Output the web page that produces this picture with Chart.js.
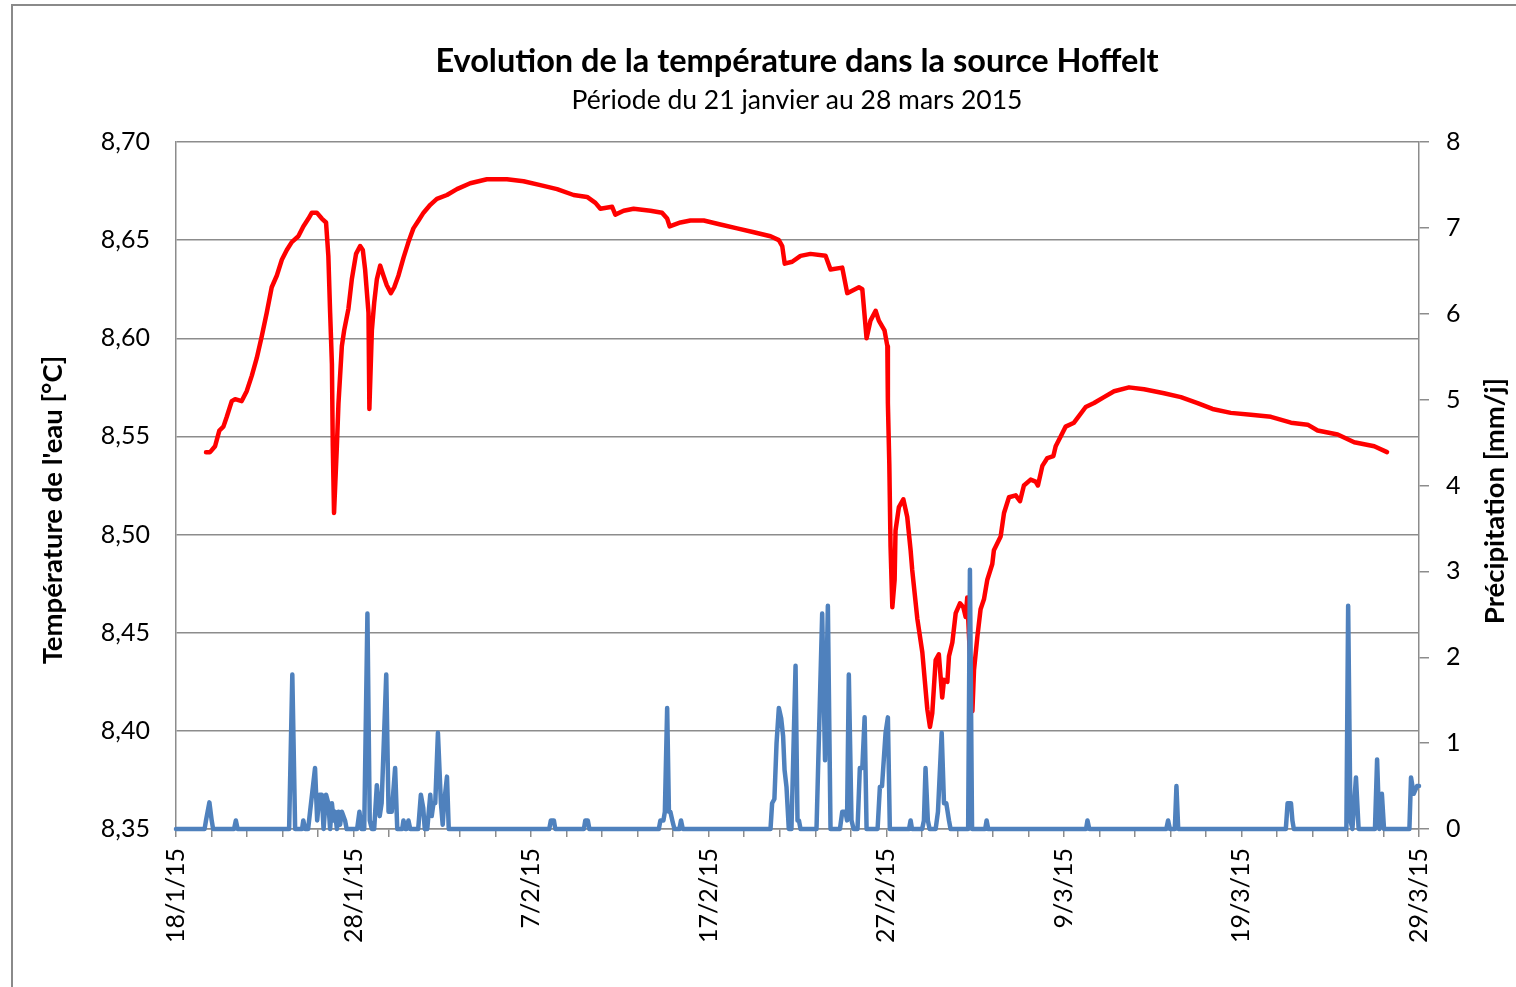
<!DOCTYPE html>
<html>
<head>
<meta charset="utf-8">
<title>Evolution de la température dans la source Hoffelt</title>
<script src="https://cdn.jsdelivr.net/npm/chart.js@4.4.1/dist/chart.umd.min.js"></script>
<style>
  html, body { margin: 0; padding: 0; background: #fff; overflow: hidden; }
  #frame { position: absolute; left: 11px; top: 4px; width: 1520px; height: 1000px;
           border-top: 2px solid #8a8a8a; border-left: 2px solid #8a8a8a; }
  canvas { position: absolute; left: 0; top: 0; }
</style>
</head>
<body>
<div id="frame"></div>
<canvas id="tempChart" width="1516" height="987"></canvas>
<script>
// days counted from 18/1/15
const dateLabels = ["18/1/15", "28/1/15", "7/2/15", "17/2/15", "27/2/15", "9/3/15", "19/3/15", "29/3/15"];

// water temperature [°C]
const tempDays = [
  1.69, 1.92, 2.20, 2.44, 2.67, 2.86, 3.14, 3.33, 3.70, 3.98,
  4.27, 4.55, 4.83, 5.11, 5.39, 5.68, 5.96, 6.24, 6.52, 6.89,
  7.17, 7.46, 7.65, 7.93, 8.21, 8.45, 8.58, 8.68, 8.78, 8.83,
  8.90, 9.06, 9.15, 9.34, 9.47, 9.71, 9.90, 10.14, 10.37, 10.52,
  10.65, 10.84, 10.89, 11.03, 11.16, 11.31, 11.50, 11.68, 11.87, 12.10,
  12.29, 12.53, 12.81, 13.09, 13.37, 13.66, 13.94, 14.32, 14.69, 15.26,
  15.82, 16.57, 17.51, 18.64, 19.57, 20.52, 21.46, 22.39, 23.15, 23.62,
  23.90, 24.56, 24.74, 25.21, 25.77, 26.72, 27.37, 27.66, 27.80, 28.41,
  28.97, 29.72, 30.66, 31.60, 32.54, 33.48, 33.95, 34.14, 34.28, 34.70,
  35.17, 35.73, 36.58, 36.86, 37.52, 37.80, 38.46, 38.65, 38.89, 39.11,
  39.40, 39.58, 39.90, 40.06, 40.09, 40.17, 40.24, 40.34, 40.47, 40.52,
  40.71, 40.96, 41.18, 41.37, 41.46, 41.75, 42.03, 42.31, 42.46, 42.59,
  42.78, 42.96, 43.15, 43.25, 43.44, 43.53, 43.72, 43.91, 44.15, 44.34,
  44.47, 44.56, 44.85, 44.94, 45.13, 45.31, 45.50, 45.69, 45.97, 46.06,
  46.44, 46.63, 46.91, 47.29, 47.53, 47.75, 48.13, 48.41, 48.54, 48.79,
  49.07, 49.41, 49.54, 49.82, 50.10, 50.57, 51.23, 51.70, 52.26, 52.83,
  53.67, 54.52, 55.64, 56.59, 57.53, 58.37, 59.40, 60.53, 61.66, 62.79,
  63.73, 64.29, 65.42, 66.35, 67.48, 68.20
];
const tempValues = [
  8.542, 8.542, 8.545, 8.553, 8.555, 8.560, 8.568, 8.569, 8.568, 8.573,
  8.581, 8.590, 8.601, 8.613, 8.626, 8.632, 8.640, 8.645, 8.649, 8.652,
  8.657, 8.661, 8.664, 8.664, 8.661, 8.659, 8.642, 8.613, 8.587, 8.545,
  8.511, 8.545, 8.567, 8.596, 8.604, 8.615, 8.630, 8.643, 8.647, 8.645,
  8.635, 8.613, 8.564, 8.604, 8.618, 8.630, 8.637, 8.632, 8.627, 8.623,
  8.626, 8.632, 8.641, 8.649, 8.656, 8.660, 8.664, 8.668, 8.671, 8.673,
  8.676, 8.679, 8.681, 8.681, 8.680, 8.678, 8.676, 8.673, 8.672, 8.669,
  8.666, 8.667, 8.663, 8.665, 8.666, 8.665, 8.664, 8.661, 8.657, 8.659,
  8.660, 8.660, 8.658, 8.656, 8.654, 8.652, 8.650, 8.647, 8.638, 8.639,
  8.642, 8.643, 8.642, 8.635, 8.636, 8.623, 8.626, 8.625, 8.600, 8.609,
  8.614, 8.609, 8.604, 8.596, 8.567, 8.536, 8.494, 8.463, 8.477, 8.502,
  8.514, 8.518, 8.509, 8.492, 8.482, 8.457, 8.440, 8.411, 8.402, 8.409,
  8.436, 8.439, 8.417, 8.426, 8.425, 8.438, 8.445, 8.460, 8.465, 8.463,
  8.458, 8.468, 8.410, 8.431, 8.448, 8.462, 8.467, 8.477, 8.485, 8.492,
  8.499, 8.511, 8.519, 8.520, 8.517, 8.525, 8.528, 8.527, 8.525, 8.535,
  8.539, 8.540, 8.545, 8.550, 8.555, 8.557, 8.565, 8.567, 8.570, 8.573,
  8.575, 8.574, 8.572, 8.570, 8.567, 8.564, 8.562, 8.561, 8.560, 8.557,
  8.556, 8.553, 8.551, 8.547, 8.545, 8.542
];

// precipitation [mm/j]
const precipDays = [
  0, 1.61, 1.69, 1.88, 2.01, 2.09, 3.27, 3.37, 3.47,
  6.37, 6.55, 6.71, 7.10, 7.17, 7.27,
  7.44, 7.55, 7.83, 7.95, 8.08, 8.21, 8.31, 8.45, 8.58, 8.68, 8.78, 8.88, 8.96, 9.06, 9.15, 9.24, 9.34, 9.52, 9.61,
  10.20, 10.33, 10.45, 10.60, 10.78, 10.91, 11.03,
  11.16, 11.31, 11.47, 11.58, 11.84, 11.97, 12.15, 12.34, 12.46,
  12.74, 12.81, 12.91, 12.99, 13.09, 13.19,
  13.64, 13.79, 13.92, 14.01, 14.15, 14.32, 14.40, 14.50, 14.60, 14.75, 14.92, 15.02, 15.10, 15.26, 15.36,
  21.02, 21.11, 21.28, 21.36, 22.97, 23.05, 23.19, 23.28,
  27.19, 27.28, 27.45, 27.53, 27.66, 27.76, 27.84, 27.95, 28.07, 28.35, 28.44, 28.54,
  33.48, 33.57, 33.70, 33.82, 33.95, 34.08, 34.19, 34.27, 34.38, 34.51, 34.66, 34.89, 35.00, 35.08, 35.17,
  36.07, 36.39, 36.55, 36.71, 36.86,
  37.39, 37.52, 37.70, 37.79, 37.89, 38.04, 38.16,
  38.38, 38.51, 38.65, 38.78, 38.89,
  39.51, 39.64, 39.76, 39.96, 40.09, 40.20,
  41.28, 41.37, 41.45,
  42.02, 42.12, 42.21, 42.34, 42.44,
  42.78, 42.91, 43.12, 43.25, 43.38, 43.53, 43.62,
  44.61, 44.71, 44.83, 45.57, 45.65, 45.74,
  51.25, 51.33, 51.43,
  55.77, 55.87, 55.97, 56.25, 56.34, 56.44,
  62.50, 62.60, 62.79, 62.87, 62.95,
  65.91, 66.01, 66.14, 66.25, 66.45, 66.60,
  67.52, 67.64, 67.77, 67.91, 68.03,
  69.46, 69.55, 69.70, 69.89, 70.00
];
const precipValues = [
  0, 0, 0.1, 0.31, 0.1, 0, 0, 0.1, 0,
  0, 1.8, 0, 0, 0.1, 0,
  0, 0.2, 0.71, 0.1, 0.4, 0.4, 0, 0.4, 0.3, 0, 0.3, 0.1, 0.2, 0, 0.2, 0.05, 0.2, 0.1, 0,
  0, 0.2, 0, 0, 2.51, 0.1, 0,
  0, 0.51, 0.15, 0.3, 1.8, 0.2, 0.2, 0.71, 0,
  0, 0.1, 0, 0, 0.1, 0,
  0, 0.4, 0.25, 0, 0, 0.4, 0.15, 0.3, 0.3, 1.12, 0.3, 0.05, 0.3, 0.61, 0,
  0, 0.1, 0.1, 0, 0, 0.1, 0.1, 0,
  0, 0.1, 0.1, 0.2, 1.41, 0.2, 0.2, 0.1, 0, 0, 0.1, 0,
  0, 0.3, 0.35, 1.0, 1.41, 1.29, 1.08, 0.69, 0.49, 0, 0, 1.9, 0.1, 0.1, 0,
  0, 2.51, 0.8, 2.6, 0,
  0, 0.2, 0.2, 0.1, 1.8, 0.1, 0,
  0, 0.71, 0.71, 1.3, 0,
  0, 0.49, 0.5, 1.12, 1.3, 0,
  0, 0.1, 0,
  0, 0.1, 0.71, 0.1, 0,
  0, 0.2, 1.12, 0.3, 0.3, 0.1, 0,
  0, 3.02, 0, 0, 0.1, 0,
  0, 0.1, 0,
  0, 0.1, 0, 0, 0.5, 0,
  0, 0.3, 0.3, 0.1, 0,
  0, 2.6, 0.1, 0, 0.6, 0,
  0, 0.81, 0, 0.41, 0,
  0, 0.6, 0.41, 0.5, 0.5
];

const titleText = "Evolution de la température dans la source Hoffelt";
const subtitleText = "Période du 21 janvier au 28 mars 2015";
const leftTitle = "Température de l'eau [°C]";
const rightTitle = "Précipitation [mm/j]";

const gridGray = "#8c8c8c";
const tickFont = { family: "Lato", size: 25 };

// titles drawn by hand to sit where Excel put them
const titlesPlugin = {
  id: "titles",
  afterDraw(chart) {
    const ctx = chart.ctx;
    ctx.save();
    ctx.fillStyle = "#000";
    ctx.textAlign = "center";
    ctx.textBaseline = "middle";
    ctx.font = "bold 32.5px Lato";
    ctx.fillText(titleText, 797, 62);
    ctx.font = "26.5px Lato";
    ctx.fillText(subtitleText, 797, 100);
    ctx.font = "bold 27.5px Lato";
    ctx.translate(53, 510);
    ctx.rotate(-Math.PI / 2);
    ctx.fillText(leftTitle, 0, 0);
    ctx.restore();
    ctx.save();
    ctx.fillStyle = "#000";
    ctx.textAlign = "center";
    ctx.textBaseline = "middle";
    ctx.font = "bold 27.5px Lato";
    ctx.translate(1495, 501);
    ctx.rotate(-Math.PI / 2);
    ctx.fillText(rightTitle, 0, 0);
    ctx.restore();
  }
};

const ctx = document.getElementById("tempChart").getContext("2d");
new Chart(ctx, {
  type: "line",
  data: {
    datasets: [
      {
        label: "Précipitation",
        data: precipDays.map((d, i) => ({ x: d, y: precipValues[i] })),
        yAxisID: "y1",
        borderColor: "#4f81bd",
        borderWidth: 4.5,
        borderJoinStyle: "round",
        borderCapStyle: "round",
        pointRadius: 0,
        tension: 0,
        clip: false
      },
      {
        label: "Température",
        data: tempDays.map((d, i) => ({ x: d, y: tempValues[i] })),
        yAxisID: "y",
        borderColor: "#ff0000",
        borderWidth: 4.5,
        borderJoinStyle: "round",
        borderCapStyle: "round",
        pointRadius: 0,
        tension: 0,
        clip: false
      }
    ]
  },
  options: {
    responsive: false,
    animation: false,
    events: [],
    layout: { padding: { top: 142, left: 0, right: 0, bottom: 0 } },
    plugins: {
      legend: { display: false },
      tooltip: { enabled: false },
      title: { display: false }
    },
    scales: {
      x: {
        type: "linear",
        position: "bottom",
        min: 0,
        max: 70,
        afterFit: (scale) => { scale.height = 158; },
        grid: { drawOnChartArea: false, drawTicks: true, tickLength: 8, color: gridGray, lineWidth: 1.5 },
        border: { display: true, color: gridGray, width: 1.5 },
        ticks: {
          stepSize: 2,
          autoSkip: false,
          minRotation: 90,
          maxRotation: 90,
          padding: 11,
          color: "#000",
          font: tickFont,
          callback: (v) => {
            const d = Math.round(v);
            return d % 10 === 0 ? dateLabels[d / 10] : "";
          }
        }
      },
      y: {
        position: "left",
        min: 8.35,
        max: 8.70,
        afterFit: (scale) => { scale.width = 176; },
        grid: { color: gridGray, lineWidth: 1.5, drawTicks: false },
        border: { display: true, color: gridGray, width: 1.5 },
        ticks: {
          stepSize: 0.05,
          padding: 26,
          color: "#000",
          font: tickFont,
          callback: (v) => v.toFixed(2).replace(".", ",")
        }
      },
      y1: {
        position: "right",
        min: 0,
        max: 8,
        afterFit: (scale) => { scale.width = 97; },
        grid: { drawOnChartArea: false, drawTicks: true, tickLength: 10, color: gridGray, lineWidth: 1.5 },
        border: { display: true, color: gridGray, width: 1.5 },
        ticks: {
          stepSize: 1,
          padding: 17,
          color: "#000",
          font: tickFont
        }
      }
    }
  },
  plugins: [titlesPlugin]
});
</script>
</body>
</html>
